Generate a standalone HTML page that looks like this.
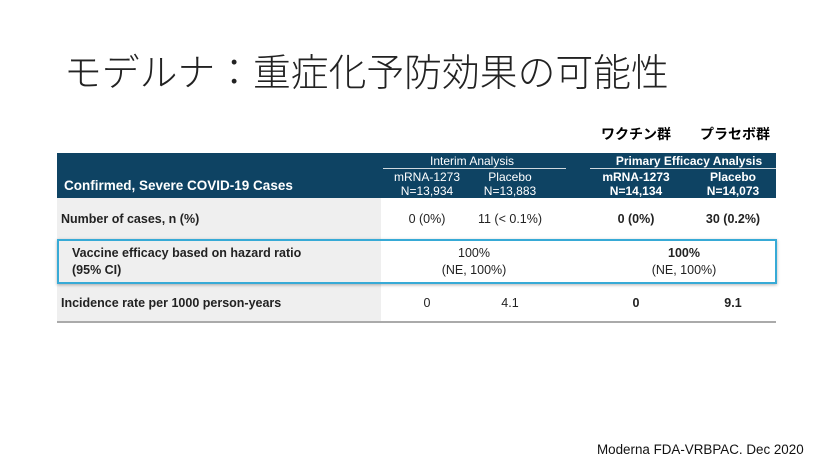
<!DOCTYPE html>
<html><head><meta charset="utf-8"><style>
body{margin:0;width:831px;height:468px;background:#fff;position:relative;overflow:hidden;font-family:"Liberation Sans","Noto Sans CJK JP",sans-serif;}
.a{position:absolute;white-space:nowrap;}
.c{transform:translateX(-50%);text-align:center;}
.w{color:#fff;}
.h{font-size:12px;line-height:14px;}
.b{font-weight:bold;}
.r{font-size:12.5px;color:#222;}
</style></head><body>
<div class="a" style="left:64px;top:42px;font-size:37.8px;color:#222;font-family:'Noto Sans CJK JP',sans-serif;font-weight:300;">モデルナ：重症化予防効果の可能性</div>
<div class="a c b" style="left:636px;top:124px;font-size:14px;font-family:'Noto Sans CJK JP',sans-serif;">ワクチン群</div>
<div class="a c b" style="left:735px;top:124px;font-size:14px;font-family:'Noto Sans CJK JP',sans-serif;">プラセボ群</div>

<div class="a" style="left:57px;top:153px;width:719px;height:45px;background:#0e4363;"></div>
<div class="a" style="left:57px;top:198px;width:324px;height:124px;background:#efefef;"></div>
<div class="a" style="left:57px;top:321px;width:719px;height:2px;background:#aaa;"></div>

<div class="a w b" style="left:64px;top:178px;font-size:13.5px;">Confirmed, Severe COVID-19 Cases</div>
<div class="a c w h" style="left:472px;top:154px;">Interim Analysis</div>
<div class="a" style="left:383px;top:168px;width:183px;height:1px;background:#cfd8de;"></div>
<div class="a c w h b" style="left:689px;top:154px;">Primary Efficacy Analysis</div>
<div class="a" style="left:590px;top:168px;width:186px;height:1px;background:#cfd8de;"></div>
<div class="a c w h" style="left:427px;top:170px;">mRNA-1273<br>N=13,934</div>
<div class="a c w h" style="left:510px;top:170px;">Placebo<br>N=13,883</div>
<div class="a c w h b" style="left:636px;top:170px;">mRNA-1273<br>N=14,134</div>
<div class="a c w h b" style="left:733px;top:170px;">Placebo<br>N=14,073</div>

<div class="a r b" style="left:61px;top:212px;">Number of cases, n (%)</div>
<div class="a c r" style="left:427px;top:212px;">0 (0%)</div>
<div class="a c r" style="left:510px;top:212px;">11 (&lt; 0.1%)</div>
<div class="a c r b" style="left:636px;top:212px;">0 (0%)</div>
<div class="a c r b" style="left:733px;top:212px;">30 (0.2%)</div>

<div class="a" style="left:57px;top:239px;width:716px;height:41px;border:2px solid #37aad6;box-shadow:0 1px 3px rgba(0,0,0,.3);"></div>
<div class="a r b" style="left:72px;top:245px;line-height:17px;">Vaccine efficacy based on hazard ratio<br>(95% CI)</div>
<div class="a c r" style="left:474px;top:245px;line-height:17px;">100%<br>(NE, 100%)</div>
<div class="a c r" style="left:684px;top:245px;line-height:17px;"><b>100%</b><br>(NE, 100%)</div>

<div class="a r b" style="left:61px;top:296px;">Incidence rate per 1000 person-years</div>
<div class="a c r" style="left:427px;top:296px;">0</div>
<div class="a c r" style="left:510px;top:296px;">4.1</div>
<div class="a c r b" style="left:636px;top:296px;">0</div>
<div class="a c r b" style="left:733px;top:296px;">9.1</div>

<div class="a" style="left:597px;top:442px;font-size:13.4px;color:#111;">Moderna FDA-VRBPAC. Dec 2020</div>
</body></html>
